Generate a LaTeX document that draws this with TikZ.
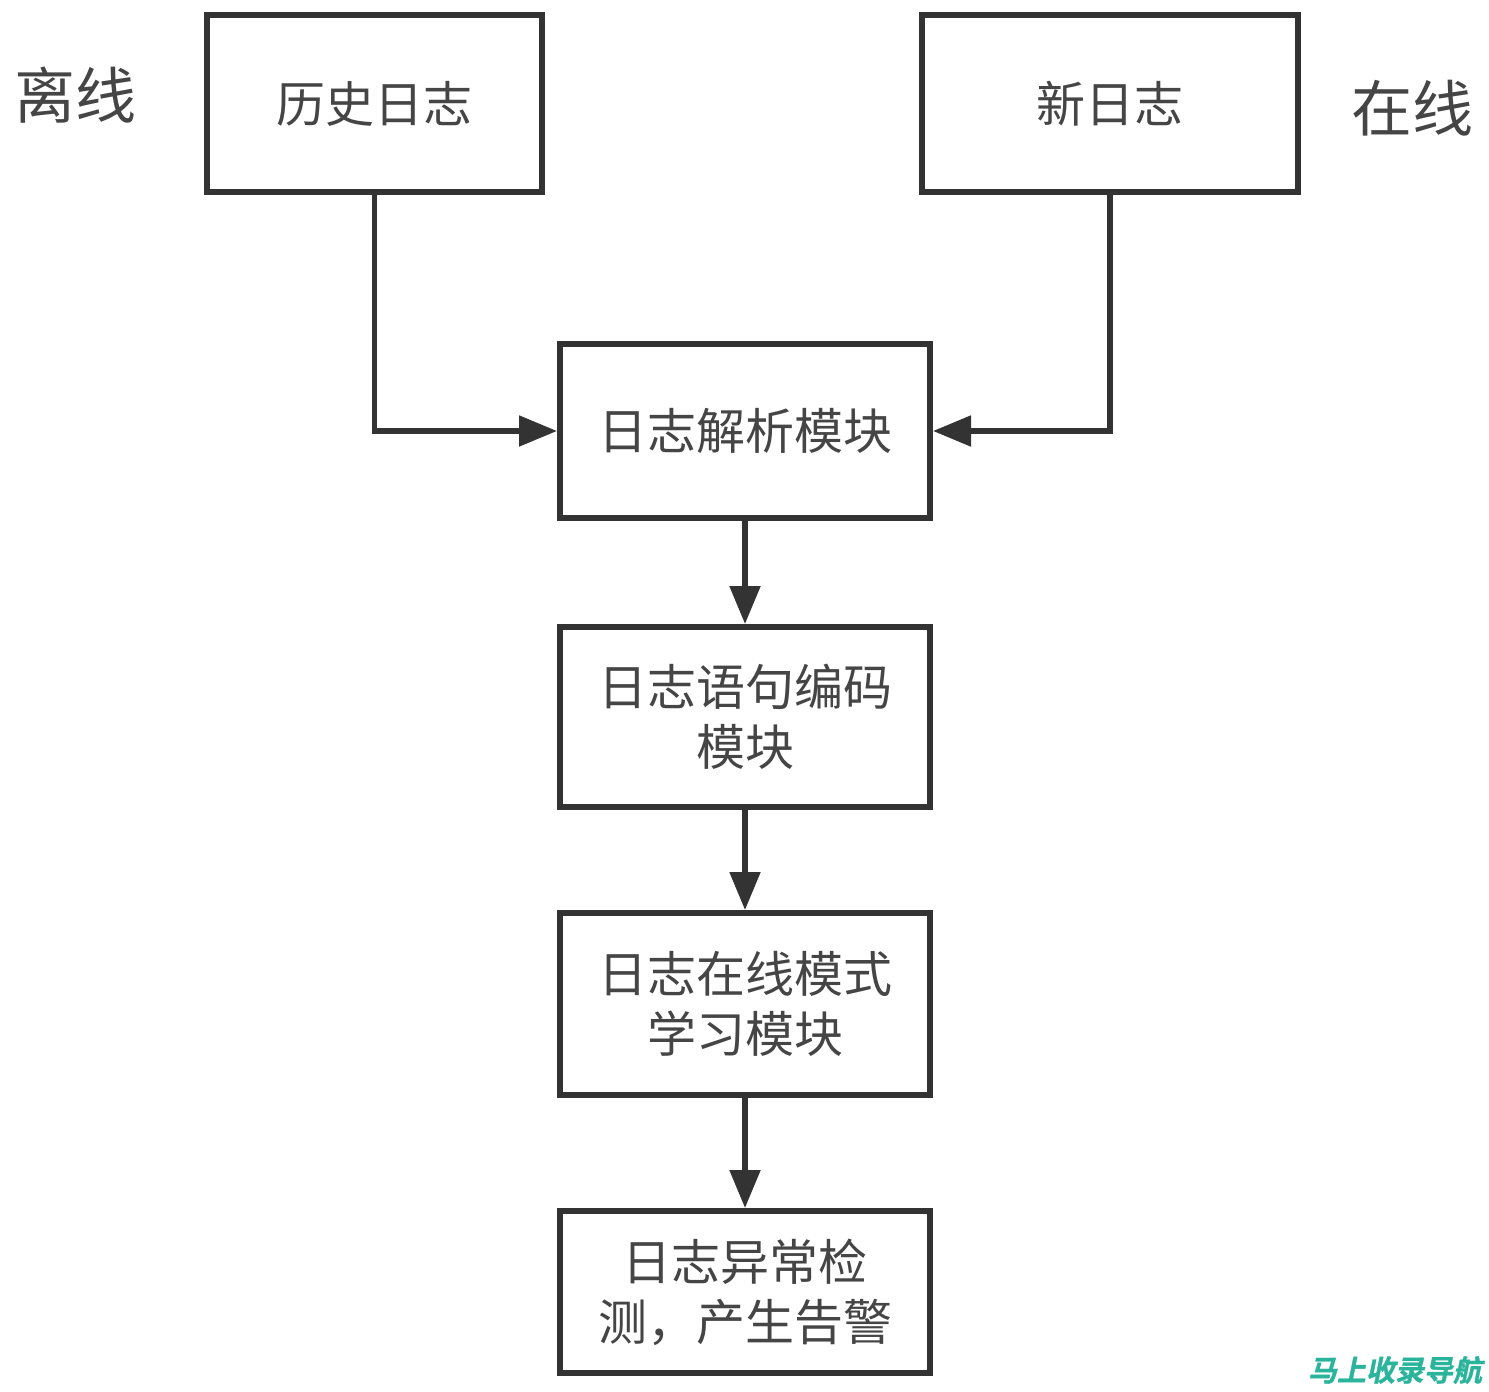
\documentclass[tikz,border=0pt]{standalone}
\usepackage{fontspec}
\newfontfamily\cjk{Noto Sans CJK SC}
\newfontfamily\cjkb[FakeSlant=0.2,FakeBold=1]{Noto Sans CJK SC Bold}
\usetikzlibrary{arrows.meta}
\definecolor{linegray}{HTML}{333333}
\definecolor{textgray}{HTML}{454545}
\definecolor{wmteal}{HTML}{2AB49C}
\tikzset{
  box/.style={draw=linegray, line width=3pt, fill=white, rectangle, align=center,
    text=textgray, font=\cjk\fontsize{24.5}{30}\selectfont, inner sep=0pt},
  side/.style={text=textgray, font=\cjk\fontsize{30.5}{36}\selectfont, inner sep=0pt},
  conn/.style={draw=linegray, line width=2.6pt, -{Triangle[length=19pt,width=15pt]}},
}
\begin{document}
\begin{tikzpicture}[x=0.5pt,y=-0.5pt]
\path[use as bounding box, fill=white] (0,0) rectangle (1489,1392);
\node[box, minimum width=167.5pt, minimum height=88.5pt] (hist) at (374.5,103.5) {历史日志};
\node[box, minimum width=188pt, minimum height=88.5pt] (new) at (1110,103.5) {新日志};
\node[side] (offline) at (75,95) {离线};
\node[side] (online) at (1412,108) {在线};
\node[box, minimum width=185pt, minimum height=87pt] (parse) at (745,431) {日志解析模块};
\node[box, minimum width=185pt, minimum height=90pt] (encode) at (745,717) {日志语句编码\\模块};
\node[box, minimum width=185pt, minimum height=91pt] (learn) at (745,1004) {日志在线模式\\学习模块};
\node[box, minimum width=185pt, minimum height=81pt] (detect) at (745,1292) {日志异常检\\测，产生告警};
\draw[conn] (hist.south) |- (parse.west);
\draw[conn] (new.south) |- (parse.east);
\draw[conn] (parse.south) -- (encode.north);
\draw[conn] (encode.south) -- (learn.north);
\draw[conn] (learn.south) -- (detect.north);
\node[text=wmteal, font=\cjkb\fontsize{14.5}{15}\selectfont, inner sep=0pt] (wm) at (1395,1370) {马上收录导航};
\end{tikzpicture}
\end{document}
